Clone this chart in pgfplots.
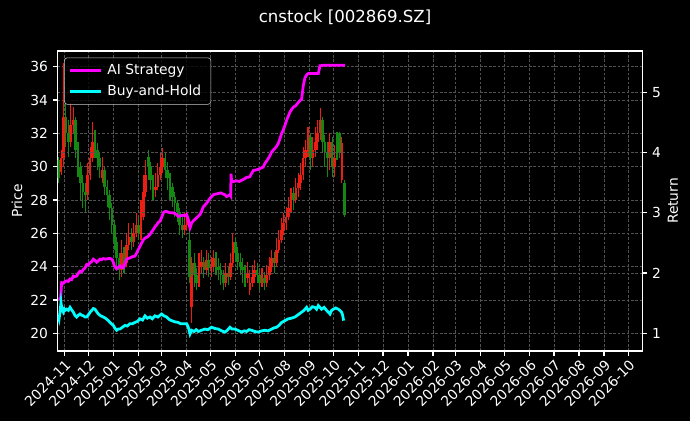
\documentclass[border=0pt]{standalone}
\usepackage{fontspec}
\setmainfont{DejaVu Sans}
\usepackage{pgfplots}
\pgfplotsset{compat=1.18}
\usepackage{pgfplotstable}

\definecolor{candleup}{RGB}{235,30,20}
\definecolor{candledown}{RGB}{20,135,20}
\definecolor{gridc}{RGB}{82,82,82}
\definecolor{legframe}{RGB}{200,200,200}
\definecolor{mplmagenta}{RGB}{255,0,255}
\definecolor{mplcyan}{RGB}{0,255,255}

% candles: x = days since 2024-11-01
\pgfplotstableread{
x o h l c
-4 29.7 31.0 29.5 30.5
-1 30.5 36.2 30.0 33.0
8 31.5 33.8 31.2 32.5
11 32.5 33.6 32.0 32.8
29 28.3 30.2 28.0 29.5
32 29.5 31.2 29.2 30.5
35 30.5 32.7 30.3 31.5
47 29.3 30.6 29.0 29.8
71 23.8 25.6 23.4 24.8
77 24.2 26.0 24.0 25.3
80 25.3 26.6 25.0 25.8
86 25.5 26.6 25.2 26.0
89 26.0 27.2 25.8 26.5
95 26.0 28.0 25.6 27.0
98 27.0 29.5 26.8 28.5
101 28.5 30.4 28.2 29.5
113 28.6 29.6 28.2 28.8
116 28.8 30.2 28.6 29.5
119 29.5 30.8 29.2 30.0
122 30.0 31.1 29.6 30.5
149 26.2 27.3 25.9 26.5
152 26.5 27.3 26.2 26.8
158 21.6 24.6 20.6 24.2
167 23.0 24.8 22.8 24.0
170 24.0 25.0 23.6 24.3
176 23.8 25.0 23.5 24.4
182 23.9 24.6 23.4 24.0
185 24.0 25.0 23.7 24.5
200 23.0 24.2 22.8 23.6
206 23.4 24.8 23.2 24.2
209 24.2 26.0 24.0 25.5
227 23.3 24.3 23.0 23.6
230 22.6 23.8 22.3 23.0
233 23.0 24.1 22.8 23.4
236 23.4 24.4 23.0 23.8
245 23.0 23.9 22.8 23.3
251 23.0 24.1 22.8 23.5
254 23.5 24.6 23.2 24.0
257 24.0 25.0 23.7 24.5
263 24.2 25.7 24.0 25.0
266 25.0 26.2 24.8 25.6
269 25.6 26.9 25.4 26.2
272 26.2 27.2 25.9 26.6
275 26.6 27.6 26.2 27.0
278 27.0 28.2 26.8 27.5
281 27.5 28.7 27.2 28.0
287 28.0 29.3 27.8 28.7
290 28.7 29.6 28.2 29.0
293 29.0 30.2 28.6 29.5
296 29.5 31.2 29.2 30.5
299 30.5 31.6 30.0 31.0
302 31.0 32.4 30.6 31.8
308 30.5 31.8 30.0 31.0
311 31.0 32.4 30.6 31.5
314 31.5 32.8 31.0 32.0
317 32.0 33.5 31.6 32.8
329 30.5 32.0 29.8 31.5
335 30.0 31.3 29.4 30.5
344 29.2 31.8 29.0 31.4
}\uptable

\pgfplotstableread{
x o h l c
-7 30.4 30.6 29.0 29.3
2 33.0 34.0 31.2 32.0
5 32.0 32.8 30.6 31.5
14 32.8 33.0 30.5 31.0
17 31.0 31.5 29.4 30.0
20 30.0 30.3 28.0 29.0
23 29.0 29.5 27.5 28.5
26 28.5 29.0 27.2 28.3
38 31.5 32.2 30.5 31.0
41 31.0 31.4 29.8 30.5
44 30.5 30.9 29.3 30.0
50 29.8 30.0 28.3 28.8
53 28.8 29.2 27.6 28.3
56 28.3 28.6 26.8 27.5
59 27.5 27.8 26.0 26.5
62 26.5 26.8 25.0 25.5
65 25.5 25.8 23.8 24.5
68 24.5 24.8 23.2 23.8
74 24.8 25.2 23.6 24.2
83 25.8 26.3 25.0 25.5
92 26.5 27.0 25.6 26.0
104 30.6 31.0 29.2 30.0
107 30.0 30.3 28.6 29.2
110 29.2 29.5 28.0 28.6
125 30.5 30.9 29.3 29.8
128 29.8 30.3 28.6 29.3
131 29.3 29.6 28.0 28.8
134 28.8 29.0 27.6 28.2
137 28.2 28.5 27.0 27.8
140 27.8 28.0 26.7 27.3
143 27.3 27.5 25.9 26.5
146 26.5 27.0 25.7 26.2
155 25.6 26.2 23.0 23.4
161 24.2 24.8 22.8 23.5
164 23.5 23.9 22.6 23.0
173 24.3 24.6 23.3 23.8
179 24.4 24.8 23.4 23.9
188 24.5 24.9 23.5 24.0
191 24.0 24.5 23.2 23.8
194 23.8 24.2 22.9 23.5
197 23.5 23.8 22.6 23.0
203 23.6 24.0 22.9 23.4
212 25.5 25.8 24.3 24.8
215 24.8 25.2 23.8 24.3
218 24.3 24.8 23.5 24.0
221 24.0 24.5 23.0 23.8
224 23.8 24.1 22.8 23.3
239 23.8 24.2 23.0 23.5
242 23.5 23.9 22.6 23.0
248 23.3 23.7 22.6 23.0
260 24.5 24.9 23.6 24.2
284 28.4 28.8 27.4 28.0
305 31.8 32.0 29.8 30.5
320 32.8 33.0 30.8 31.5
323 31.5 31.9 30.0 30.8
326 30.8 31.5 29.4 30.5
332 31.5 31.8 29.4 30.0
338 31.6 32.1 30.4 30.8
341 32.0 32.1 30.5 30.8
347 29.0 29.2 27.0 27.1
}\downtable

\pgfplotstableread{
d r
-7.4 1.57
-5.4 1.57
-4.5 1.60
-3.3 1.84
-1 1.83
1 1.86
2.9 1.87
5 1.86
7 1.90
9 1.89
11.2 1.95
13 1.94
15.4 1.95
17 1.99
19.5 2.03
21.5 2.02
23.6 2.06
25.5 2.08
27.7 2.14
29.5 2.13
31.8 2.17
34 2.19
36 2.23
38 2.21
40.1 2.18
42 2.20
44.2 2.23
46 2.22
48.3 2.24
51 2.23
54.6 2.24
57 2.24
58.7 2.23
60.5 2.19
62 2.12
63.5 2.09
64.9 2.07
67 2.10
69 2.12
71 2.09
73.1 2.09
75 2.15
77.3 2.23
79 2.24
81.4 2.25
84 2.27
87.6 2.28
89.5 2.33
91.7 2.39
94 2.45
95.9 2.50
98 2.55
100 2.58
103 2.60
106.2 2.64
108 2.68
110.3 2.72
112.5 2.77
114.5 2.80
116.5 2.84
118.6 2.86
120.5 2.92
122.7 3.00
124.8 3.02
126.8 3.02
129 3.01
131 3.00
134 3.00
137.2 2.99
139 2.97
141.3 2.94
144 2.95
147.5 2.96
149.5 2.95
151.6 2.97
153.7 2.89
154.8 2.80
155.8 2.75
157.8 2.83
160 2.87
162 2.89
165 2.93
168.2 2.97
170 3.02
172.3 3.10
174.5 3.13
176.4 3.16
178.5 3.20
180.6 3.24
182.5 3.27
184.7 3.30
187.5 3.31
190.9 3.32
194 3.33
197.1 3.31
199 3.30
201.2 3.27
203 3.28
205.3 3.30
206.3 3.28
206.6 3.65
207.4 3.52
210 3.52
213.6 3.53
217 3.52
219.8 3.54
223 3.56
226 3.59
228 3.59
230.1 3.60
232 3.65
234.2 3.70
237 3.71
240.4 3.72
243.5 3.74
246.6 3.76
248.7 3.82
250.8 3.86
252.8 3.90
255 3.95
257 4.01
259 4.04
261.1 4.07
263 4.10
265.2 4.15
267 4.22
269.3 4.31
271.5 4.38
273.5 4.45
276 4.55
279.7 4.67
281.5 4.71
283.8 4.75
287 4.78
290 4.83
292 4.86
294.2 4.89
295.2 5.00
296.2 5.11
297.3 5.18
298.3 5.24
300.5 5.29
302.4 5.31
308 5.31
314.8 5.31
316 5.38
316.8 5.44
323 5.45
347.8 5.45
}\aitable

\pgfplotstableread{
d r
-7.4 1.29
-6.5 1.24
-5.3 1.35
-4.1 1.51
-3.2 1.42
-2.4 1.38
-1.2 1.35
0 1.40
0.9 1.38
2.9 1.40
5 1.38
7.1 1.43
9 1.39
11.2 1.35
13 1.30
15.3 1.27
17.5 1.30
19.5 1.32
21.5 1.30
23.6 1.29
25.6 1.27
27.7 1.27
30 1.31
32 1.35
33.9 1.38
36 1.41
38 1.40
40 1.36
42.2 1.32
45 1.29
48.4 1.27
51 1.25
54.6 1.21
57.5 1.17
60.8 1.13
63 1.08
64.9 1.05
67 1.07
69 1.07
72 1.10
75.2 1.13
78 1.12
81.4 1.16
84.5 1.16
87.6 1.18
91 1.20
93.8 1.24
97 1.22
100 1.29
103 1.25
106.2 1.27
109 1.24
112.4 1.29
116 1.27
120.6 1.32
123.5 1.29
126.8 1.27
130 1.23
133 1.21
137 1.19
141.3 1.18
144 1.16
147.5 1.16
151.6 1.16
153.7 1.10
155.8 0.99
157.8 1.05
161 1.03
163.5 1.06
166.1 1.03
170 1.05
174.3 1.07
178 1.06
182.6 1.10
186.5 1.08
190.9 1.07
195 1.04
199.1 1.02
202 1.05
205.3 1.10
208 1.07
211.5 1.07
215 1.05
219.8 1.02
223 1.04
226 1.03
229 1.06
232.2 1.05
236 1.03
240.4 1.02
244.5 1.04
248.7 1.05
252.5 1.04
257 1.07
260 1.09
263.1 1.10
266 1.13
269.3 1.18
273.5 1.21
277.6 1.24
281.5 1.25
285.9 1.27
290 1.31
294.1 1.35
297 1.38
300.3 1.43
302.3 1.38
304.4 1.40
307.5 1.44
310.6 1.43
312.7 1.40
314.8 1.46
316.8 1.43
318.9 1.40
322 1.43
325.1 1.38
327.2 1.35
329.3 1.32
331.3 1.38
333.4 1.40
336.5 1.42
339.6 1.40
341.6 1.38
343.7 1.35
345 1.30
346.2 1.21
}\bhtable

\pgfplotsset{
  common/.style={
    at={(0,0)}, anchor=south west, scale only axis,
    width=420.9bp, height=216bp,
    xmin=-8.2, xmax=716.4,
    tick align=outside, major tick length=3.5bp,
    every tick/.style={white, line width=0.8bp},
    axis line style={white, line width=0.8bp},
    grid style={gridc, dash pattern=on 2bp off 1.2bp, line width=0.5bp},
    tick label style={white, font=\fontsize{10}{12}\selectfont},
    label style={white, font=\fontsize{10}{12}\selectfont},
    /pgf/number format/assume math mode=true,
  },
  candle/.style n args={2}{draw=none, no markers, forget plot,
    error bars/.cd, y dir=plus, y explicit, error mark=none,
    error bar style={draw=#1, solid, line width=#2}},
}

\begin{document}
\begin{tikzpicture}
\fill[black, use as bounding box] (-41.54bp,-50.4bp) rectangle (455.26bp,252.72bp);

\begin{axis}[common,
  ymin=18.94, ymax=36.94,
  xtick={0,30,61,92,120,151,181,212,242,273,304,334,365,395,426,457,485,516,546,577,607,638,669,699},
  xticklabels={2024-11,2024-12,2025-01,2025-02,2025-03,2025-04,2025-05,2025-06,2025-07,2025-08,2025-09,2025-10,2025-11,2025-12,2026-01,2026-02,2026-03,2026-04,2026-05,2026-06,2026-07,2026-08,2026-09,2026-10},
  xticklabel style={rotate=45, anchor=north east, inner sep=1.5bp},
  ytick={20,22,24,26,28,30,32,34,36},
  xtick pos=left, ytick pos=left,
  xmajorgrids, ymajorgrids,
  ylabel={Price},
  ylabel style={at={(axis description cs:-0.0696,0.5)}, anchor=center},
]
% wicks
\addplot[candle={candleup}{0.8bp}]
  table[x=x, y=l, y error expr=\thisrow{h}-\thisrow{l}] {\uptable};
\addplot[candle={candledown}{0.8bp}]
  table[x=x, y=l, y error expr=\thisrow{h}-\thisrow{l}] {\downtable};
% bodies
\addplot[candle={candleup}{1.9bp}]
  table[x=x, y=o, y error expr=\thisrow{c}-\thisrow{o}] {\uptable};
\addplot[candle={candledown}{1.9bp}]
  table[x=x, y=c, y error expr=\thisrow{o}-\thisrow{c}] {\downtable};
\end{axis}

\begin{axis}[common,
  ymin=0.706, ymax=5.685,
  axis x line=none, axis y line*=right,
  ytick={1,2,3,4,5}, ytick pos=right,
  ymajorgrids,
  ylabel={Return},
  ylabel style={at={(axis description cs:1.0525,0.5)}, anchor=center},
  legend cell align=left,
  legend image code/.code={\draw[#1] (0bp,0bp) -- (22bp,0bp);},
  legend style={at={(axis description cs:0.011,0.978)}, anchor=north west,
    fill=black, fill opacity=0.8, draw opacity=1, text opacity=1,
    draw=legframe, rounded corners=2bp, text=white,
    font=\fontsize{10}{12}\selectfont, inner xsep=3bp, inner ysep=2.5bp, row sep=2.5bp,
    nodes={inner xsep=4bp}},
]
\addplot[mplmagenta, line width=2bp] table[x=d, y=r] {\aitable};
\addlegendentry{AI Strategy}
\addplot[mplcyan, line width=2bp] table[x=d, y=r] {\bhtable};
\addlegendentry{Buy-and-Hold}
\end{axis}

\node[white, font=\fontsize{12}{14}\selectfont] at (206.9bp,240.5bp) {cnstock [002869.SZ]};
\end{tikzpicture}
\end{document}
